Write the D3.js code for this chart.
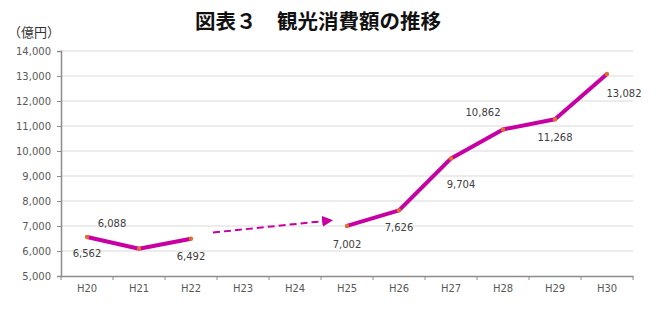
<!DOCTYPE html>
<html>
<head>
<meta charset="utf-8">
<script src="https://cdnjs.cloudflare.com/ajax/libs/d3/7.8.5/d3.min.js"></script>
<style>
  body { margin: 0; background: #fff; }
  text { font-family: Verdana, "DejaVu Sans", sans-serif; }
</style>
</head>
<body>
<script>
// data
var years = ["H20", "H21", "H22", "H23", "H24", "H25", "H26", "H27", "H28", "H29", "H30"];
var values = [6562, 6088, 6492, null, null, 7002, 7626, 9704, 10862, 11268, 13082];
var yTicks = [5000, 6000, 7000, 8000, 9000, 10000, 11000, 12000, 13000, 14000];

// where each value label sits relative to its point
var labelOffsets = [[0, 20], [-27, -22], [0, 21], null, null, [0, 22], [0, 21], [10, 30], [-20, -13], [0, 22], [17, 23]];

var svg = d3.select("body")
  .append("svg")
  .attr("width", 663)
  .attr("height", 311);

var x = d3.scaleBand().domain(years).range([61, 633]);
var y = d3.scaleLinear().domain([5000, 14000]).range([276, 51]);

// title
svg.append("text")
  .attr("x", 318)
  .attr("y", 29)
  .attr("text-anchor", "middle")
  .style("font-family", "'Noto Sans CJK JP', sans-serif")
  .style("font-size", "20.5px")
  .style("font-weight", "bold")
  .style("fill", "#111")
  .text("図表３　観光消費額の推移");

svg.append("text")
  .attr("x", 8)
  .attr("y", 37)
  .style("font-family", "'Noto Sans CJK JP', sans-serif")
  .style("font-size", "13px")
  .style("fill", "#333")
  .text("（億円）");

// gridlines
svg.append("g")
  .selectAll("line")
  .data(yTicks.slice(1))
  .enter().append("line")
  .attr("x1", 61)
  .attr("x2", 633)
  .attr("y1", d => y(d))
  .attr("y2", d => y(d))
  .style("stroke", "#d9d9d9")
  .style("stroke-width", 1);

// y axis
var yAxis = svg.append("g")
  .attr("transform", "translate(61,0)")
  .call(d3.axisLeft(y).tickValues(yTicks).tickFormat(d3.format(",")).tickSize(4).tickPadding(6));

// x axis
var xAxis = svg.append("g")
  .attr("transform", "translate(0,276)")
  .call(d3.axisBottom(x).tickSize(0).tickPadding(9));

// band boundary ticks
svg.append("g")
  .selectAll("line")
  .data(years.concat(["end"]))
  .enter().append("line")
  .attr("x1", (d, i) => 61 + i * x.step())
  .attr("x2", (d, i) => 61 + i * x.step())
  .attr("y1", 276)
  .attr("y2", 280)
  .style("stroke", "#8c8c8c");

[yAxis, xAxis].forEach(function (g) {
  g.select(".domain").style("stroke", "#8c8c8c").style("stroke-width", 1.5);
  g.selectAll(".tick line").style("stroke", "#8c8c8c");
  g.selectAll("text").style("fill", "#595959").style("font-size", "10px")
    .style("font-family", "Verdana, 'DejaVu Sans', sans-serif");
});

var pts = years.map((d, i) => ({ year: d, value: values[i], off: labelOffsets[i] }));

var line = d3.line()
  .defined(d => d.value != null)
  .x(d => x(d.year) + x.bandwidth() / 2)
  .y(d => y(d.value));

svg.append("path")
  .datum(pts)
  .attr("d", line)
  .style("fill", "none")
  .style("stroke", "#c800a4")
  .style("stroke-width", 4)
  .style("stroke-linejoin", "round");

var real = pts.filter(d => d.value != null);

svg.append("g")
  .selectAll("circle")
  .data(real)
  .enter().append("circle")
  .attr("cx", d => x(d.year) + x.bandwidth() / 2)
  .attr("cy", d => y(d.value))
  .attr("r", 2.2)
  .style("fill", "#e0702a");

svg.append("g")
  .selectAll("text")
  .data(real)
  .enter().append("text")
  .attr("x", d => x(d.year) + x.bandwidth() / 2 + d.off[0])
  .attr("y", d => y(d.value) + d.off[1])
  .attr("text-anchor", "middle")
  .style("font-size", "10px")
  .style("fill", "#404040")
  .text(d => d3.format(",")(d.value));

// dashed arrow across the gap years
var defs = svg.append("defs");
defs.append("marker")
  .attr("id", "head")
  .attr("viewBox", "0 0 10 10")
  .attr("refX", 9)
  .attr("refY", 5)
  .attr("markerWidth", 5.5)
  .attr("markerHeight", 5.5)
  .attr("orient", "auto")
  .append("path")
  .attr("d", "M0,0L10,5L0,10Z")
  .style("fill", "#c800a4");

svg.append("line")
  .attr("x1", x("H22") + x.bandwidth() / 2 + 22)
  .attr("y1", y(6740))
  .attr("x2", x("H25") + x.bandwidth() / 2 - 15)
  .attr("y2", y(7230))
  .attr("marker-end", "url(#head)")
  .style("stroke", "#c800a4")
  .style("stroke-width", 2)
  .style("stroke-dasharray", "7,4");
</script>
</body>
</html>
